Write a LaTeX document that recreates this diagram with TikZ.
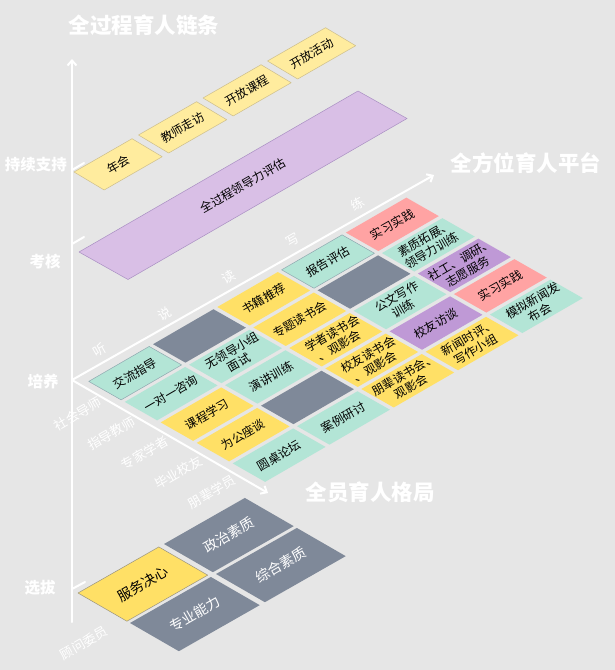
\documentclass[tikz,border=0pt]{standalone}
\usepackage{fontspec}
\setmainfont{Noto Sans CJK SC}
\usetikzlibrary{arrows.meta,calc}
\definecolor{bg}{HTML}{E6E6E6}
\definecolor{slate}{HTML}{7F8999}
\definecolor{mint}{HTML}{B3E5D6}
\definecolor{gold}{HTML}{FFE066}
\definecolor{cream}{HTML}{FFEC9E}
\definecolor{rose}{HTML}{FFA3A3}
\definecolor{lilac}{HTML}{BF99D6}
\definecolor{mauve}{HTML}{D9BFE6}
\definecolor{mintedge}{HTML}{8FA9B0}
\definecolor{creamedge}{HTML}{CDBE8C}
\definecolor{mauveedge}{HTML}{A98FC2}
\definecolor{goldedge}{HTML}{9A9480}
\begin{document}
\begin{tikzpicture}[x=1pt, y=-1pt, line join=round, line cap=round, >={Straight Barb[length=5pt,width=9pt]},
	axisline/.style={white, line width=2pt},
	heading/.style={white, font=\fontsize{21.5}{24}\selectfont\bfseries},
	lvl/.style={white, font=\fontsize{15.5}{18}\selectfont\bfseries},
	tag/.style={white, font=\fontsize{13}{15}\selectfont, rotate=30},
	txt/.style={font=\fontsize{12}{14}\selectfont, rotate=30, align=center, inner sep=0pt},
	rim/.style={line width=0.5pt}]
	\fill[bg] (0,0) rectangle (615,670);
	\useasboundingbox (0,0) rectangle (615,670);
	\path (72,622) coordinate (B)
	(72,59) coordinate (T)
	(72,380) coordinate (V)
	(434,175) coordinate (P)
	(268,493) coordinate (Q);
	\draw[axisline,->] (B)--(T);
	\draw[axisline,->] (V)--(P);
	\draw[axisline,->] (V)--(Q);
	\draw[axisline] (72,170)--(84,163);
	\draw[axisline] (72,244)--(84,237);
	\draw[axisline] (72,589)--(85,582);
	\node[lvl] (k1) at (36,165) {持续支持};
	\node[lvl] (k2) at (45,262) {考核};
	\node[lvl] (k3) at (43,382) {培养};
	\node[lvl] (k4) at (40,588) {选拔};
	\node[heading] (h1) at (144,25) {全过程育人链条};
	\node[heading] (h2) at (526,163) {全方位育人平台};
	\node[heading] (h3) at (370,492) {全员育人格局};
	\begin{scope}[shift={(74,172)}, x={(64.5pt,37pt)}, y={(33.5pt,-20pt)}]
		\foreach \k/\lbl in {0/年会,1/教师走访,2/开放课程,3/开放活动}{
			\filldraw[fill=cream, draw=creamedge, rim] (\k,0)--(\k+0.9,0)--(\k+0.9,0.9)--(\k,0.9)--cycle;
			\node[txt] (s\k) at (\k+0.45,0.45) {\lbl};
		}
	\end{scope}
	\filldraw[fill=mauve, draw=mauveedge, rim] (79,252)--++(279,-161)--++(49,27.5)--++(-279,161)--cycle;
	\node[txt] (pg) at (243,186) {全过程领导力评估};
	\foreach \lbl [count=\i from 0] in {听,说,读,写,练}
		\node[tag] (c\i) at ($(100,350)+\i*(64.3,-36.5)$) {\lbl};
	\foreach \lbl [count=\i from 0] in {社会导师,指导教师,专家学者,毕业校友,朋辈学员}
		\node[tag] (r\i) at ($(78,414)+\i*(33.5,19.5)$) {\lbl};
	\begin{scope}[shift={(85,381.5)}, x={(64.3pt,37.2pt)}, y={(36pt,-20.5pt)}]
		\foreach \i/\j/\fc/\lc/\lbl in {
			0/0/mint/mintedge/交流指导, 1/0/slate/none/{}, 2/0/gold/none/书籍推荐, 3/0/mint/mintedge/报告评估, 4/0/rose/none/实习实践,
			0/1/mint/none/一对一咨询, 1/1/mint/none/无领导小组\\面试, 2/1/gold/none/专题读书会, 3/1/slate/none/{}, 4/1/mint/none/素质拓展、\\领导力训练,
			0/2/gold/none/课程学习, 1/2/mint/none/演讲训练, 2/2/gold/none/学者读书会\\、观影会, 3/2/mint/none/公文写作\\训练, 4/2/lilac/none/社工、调研、\\志愿服务,
			0/3/gold/none/为公座谈, 1/3/slate/none/{}, 2/3/gold/none/校友读书会\\、观影会, 3/3/lilac/none/校友访谈, 4/3/rose/none/实习实践,
			0/4/mint/none/圆桌论坛, 1/4/mint/none/案例研讨, 2/4/gold/none/朋辈读书会、\\观影会, 3/4/gold/none/新闻时评、\\写作小组, 4/4/mint/none/模拟新闻发\\布会}{
			\filldraw[fill=\fc, draw=\lc, rim] (\i+0.03,\j+0.05)--(\i+0.97,\j+0.05)--(\i+0.97,\j+0.95)--(\i+0.03,\j+0.95)--cycle;
			\node[txt] (g\i\j) at (\i+0.5,\j+0.5) {\lbl};
		}
	\end{scope}
	\begin{scope}[shift={(78,593)}, x={(86pt,49pt)}, y={(52pt,-30pt)}]
		\filldraw[fill=gold, draw=goldedge, rim] (0,0)--(0.94,0)--(0.94,0.94)--(0,0.94)--cycle;
		\node[txt, font=\fontsize{14}{16}\selectfont] (x0) at (0.47,0.47) {服务决心};
		\foreach \i/\j/\lbl in {1/0/政治素质, 0/1/专业能力, 1/1/综合素质}{
			\fill[slate] (\i,\j)--(\i+0.94,\j)--(\i+0.94,\j+0.94)--(\i,\j+0.94)--cycle;
			\node[txt, white, font=\fontsize{14}{16}\selectfont] (x\i\j) at (\i+0.47,\j+0.47) {\lbl};
		}
	\end{scope}
	\node[tag] (gw) at (84,643) {顾问委员};
\end{tikzpicture}
\end{document}
